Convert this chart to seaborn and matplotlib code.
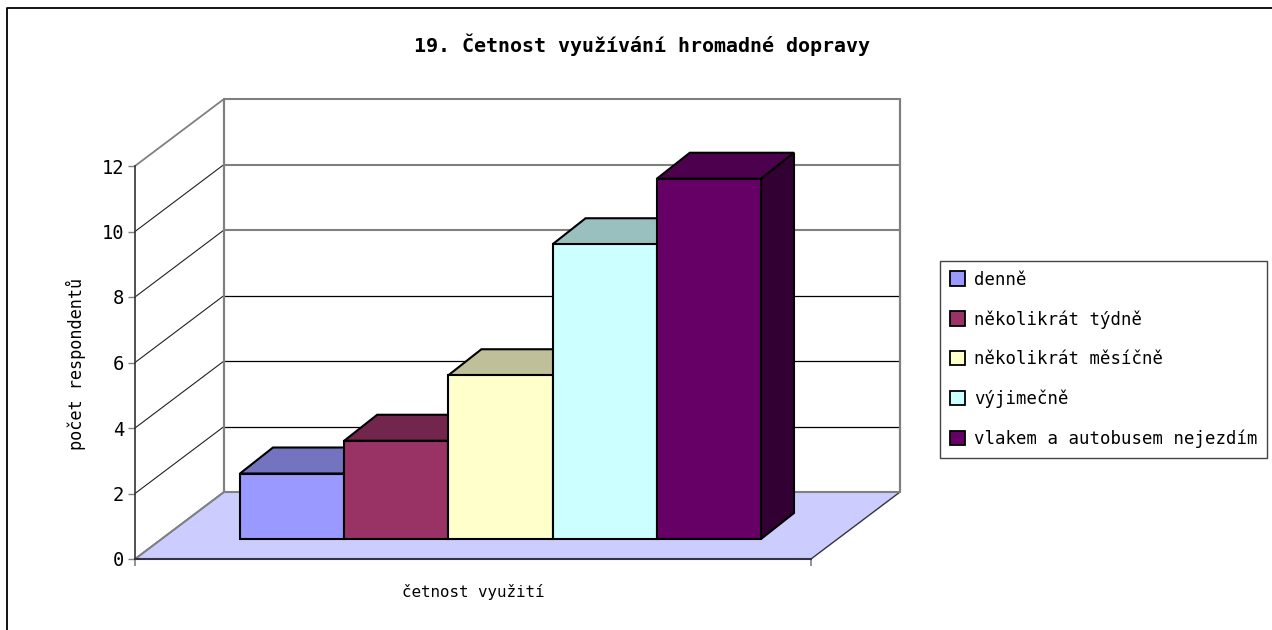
import matplotlib
matplotlib.use("Agg")
import matplotlib.pyplot as plt
import pandas as pd
import seaborn as sns
from matplotlib.lines import Line2D
from matplotlib.patches import Polygon

categories = ["denně", "několikrát týdně", "několikrát měsíčně", "výjimečně", "vlakem a autobusem nejezdím"]
counts = [2, 3, 5, 9, 11]
front_colors = ["#9999FF", "#993366", "#FFFFCC", "#CCFFFF", "#660066"]
top_colors = ["#7373BF", "#73264D", "#BFBF99", "#99BFBF", "#4D004D"]
side_colors = ["#4D4D80", "#4D1A33", "#808066", "#668080", "#330033"]
y_ticks = [0, 2, 4, 6, 8, 10, 12]

W, H = 1272, 630
sns.set_theme(style="white")
plt.rcParams["font.family"] = ["DejaVu Sans Mono", "DejaVu Sans"]
plt.rcParams["text.color"] = "black"

fig = plt.figure(figsize=(W / 100, H / 100), dpi=100)
# front plane of the box in pixels: x 135-811, y 166-559
ax = fig.add_axes([135 / W, 1 - 559 / H, 676 / W, 393 / H])
fig.patch.set_facecolor("white")

df = pd.DataFrame({"cat": categories, "count": counts})
sns.barplot(data=df, x="cat", y="count", hue="cat", palette=front_colors, width=1,
            dodge=False, legend=True, edgecolor="black", linewidth=1.5, ax=ax, saturation=1)

PX_X = 104.2  # pixels per category
PX_Y = 393 / 12  # pixels per unit
ax.set_xlim(-0.5 - 105 / PX_X, -0.5 + 571 / PX_X)
ax.set_ylim(0, 12)


def px(dx, dy):
    return dx / PX_X, dy / PX_Y


x0, x1 = ax.get_xlim()
wall_dx, wall_dy = px(89, 67)
bar_dx, bar_dy = px(33, 26)
lift = 20 / PX_Y
GRAY = "#808080"

# floor
ax.add_patch(Polygon([(x0, 0), (x1, 0), (x1 + wall_dx, wall_dy), (x0 + wall_dx, wall_dy)], closed=True,
                     facecolor="#CCCCFF", edgecolor="none", clip_on=False, zorder=0.5))
ax.plot([x1, x1 + wall_dx], [0, wall_dy], color="#333344", lw=1, clip_on=False, zorder=0.6)
ax.plot([x0, x0 + wall_dx], [0, wall_dy], color=GRAY, lw=1.3, clip_on=False, zorder=0.6)

# gridlines on the side wall and back wall
for v in y_ticks:
    c = GRAY if v in (0, 12) else "#222222"
    ax.plot([x0, x0 + wall_dx], [v, v + wall_dy], color=c, lw=1.3 if c == GRAY else 0.8, clip_on=False, zorder=0.6)
    if v in (0, 8, 10, 12):
        ax.plot([x0 + wall_dx, x1 + wall_dx], [v + wall_dy, v + wall_dy], color=GRAY, lw=1.5, clip_on=False, zorder=0.6)
    else:
        ax.plot([x0 + wall_dx, x1 + wall_dx], [v + wall_dy, v + wall_dy], color="black", lw=0.9, clip_on=False, zorder=0.6)
ax.plot([x0 + wall_dx] * 2, [wall_dy, 12 + wall_dy], color=GRAY, lw=1.6, clip_on=False, zorder=0.7)
ax.plot([x1 + wall_dx] * 2, [wall_dy, 12 + wall_dy], color=GRAY, lw=1.6, clip_on=False, zorder=0.7)

# lift the bars off the front edge and add the top and side faces
for i, bar in enumerate(ax.patches[:len(counts)]):
    bar.set_y(lift)
    bar.set_zorder(3 + i)
    left, w = bar.get_x(), bar.get_width()
    top = lift + bar.get_height()
    right = left + w
    ax.add_patch(Polygon([(left, top), (right, top), (right + bar_dx, top + bar_dy), (left + bar_dx, top + bar_dy)],
                         closed=True, facecolor=top_colors[i], edgecolor="black", lw=1.5, clip_on=False,
                         zorder=2.5 + i))
    ax.add_patch(Polygon([(right, lift), (right + bar_dx, lift + bar_dy), (right + bar_dx, top + bar_dy), (right, top)],
                         closed=True, facecolor=side_colors[i], edgecolor="black", lw=1.5, clip_on=False,
                         zorder=2.5 + i))

# axes
for s in ["top", "right"]:
    ax.spines[s].set_visible(False)
ax.patch.set_alpha(0)
ax.spines["left"].set_color("#333333")
ax.spines["bottom"].set_color("#333344")
ax.spines["left"].set_linewidth(1.2)
ax.spines["bottom"].set_linewidth(1.5)
ax.spines["left"].set_zorder(1)
ax.set_yticks(y_ticks)
ax.tick_params(axis="y", left=True, length=5, width=1, color=GRAY, pad=3, labelsize=13.5, labelcolor="black")
ax.set_xticks([x0, x1], labels=["", ""])
ax.tick_params(axis="x", bottom=True, length=5, width=1.2, color=GRAY)
ax.set_xlabel("")
ax.set_ylabel("")

fig.text(473 / W, 1 - 592 / H, "četnost využití", ha="center", va="center", fontsize=11.4)
fig.text(76 / W, 1 - 364 / H, "počet respondentů", ha="center", va="center", rotation=90, fontsize=12.2)
fig.text(642 / W, 1 - 45 / H, "19. Četnost využívání hromadné dopravy", ha="center", va="center",
         fontsize=14.4, fontweight="bold")

# legend box
handles = ax.get_legend().legend_handles
ax.get_legend().remove()
leg = fig.legend(handles, categories, loc="upper left", bbox_to_anchor=(940 / W, 1 - 261 / H),
                 bbox_transform=fig.transFigure, borderaxespad=0, frameon=True, fancybox=False, framealpha=1,
                 edgecolor="#444444", fontsize=12.5, handlelength=0.9, handleheight=0.9, handletextpad=0.5,
                 labelspacing=1.24, borderpad=0.55)
leg.get_frame().set_linewidth(1)
for h in leg.legend_handles:
    h.set_edgecolor("black")
    h.set_linewidth(1.3)

# chart border: only the top and left edges show
fig.add_artist(Line2D([7 / W, 7 / W, 1], [0, 1 - 7.5 / H, 1 - 7.5 / H], transform=fig.transFigure,
                      color="black", lw=1.3))

fig.savefig("out.png", dpi=100)
